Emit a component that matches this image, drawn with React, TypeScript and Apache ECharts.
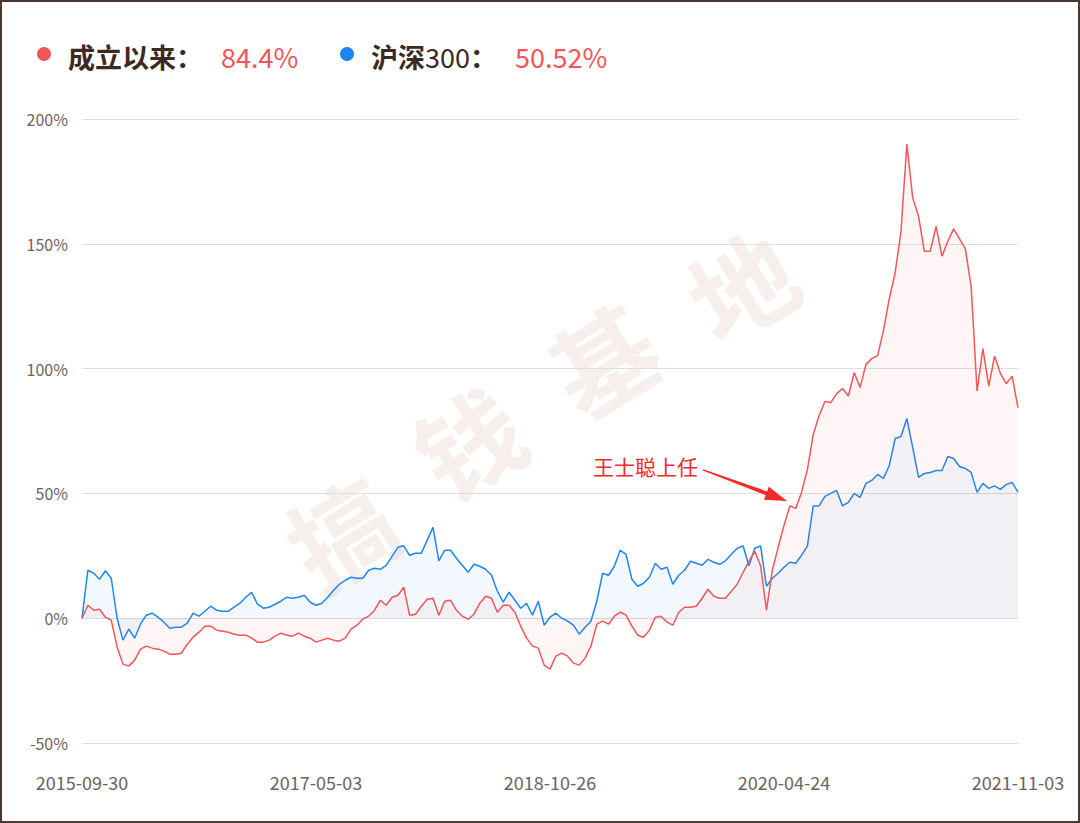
import React, { useEffect, useRef } from 'react';
import * as echarts from 'echarts';

const categories = [
  '2015-09-30','2015-10-16','2015-10-30','2015-11-13','2015-11-27','2015-12-11','2015-12-25','2016-01-08','2016-01-22','2016-02-05',
  '2016-02-26','2016-03-11','2016-03-25','2016-04-08','2016-04-22','2016-05-06','2016-05-20','2016-06-03','2016-06-17','2016-07-01',
  '2016-07-15','2016-07-29','2016-08-12','2016-08-26','2016-09-09','2016-09-23','2016-10-14','2016-10-28','2016-11-11','2016-11-25',
  '2016-12-09','2016-12-23','2017-01-06','2017-01-20','2017-02-10','2017-02-24','2017-03-10','2017-03-24','2017-04-07','2017-04-21',
  '2017-05-03','2017-05-16','2017-05-31','2017-06-13','2017-06-27','2017-07-10','2017-07-24','2017-08-07','2017-08-21','2017-09-01',
  '2017-09-15','2017-09-28','2017-10-19','2017-11-01','2017-11-15','2017-11-28','2017-12-12','2017-12-25','2018-01-09','2018-01-22',
  '2018-02-05','2018-02-26','2018-03-09','2018-03-22','2018-04-04','2018-04-19','2018-05-03','2018-05-16','2018-05-29','2018-06-11',
  '2018-06-25','2018-07-06','2018-07-19','2018-08-01','2018-08-14','2018-08-27','2018-09-07','2018-09-20','2018-10-10','2018-10-18',
  '2018-10-26','2018-11-08','2018-11-21','2018-12-04','2018-12-17','2018-12-28','2019-01-11','2019-01-24','2019-02-13','2019-02-26',
  '2019-03-11','2019-03-22','2019-04-04','2019-04-18','2019-05-06','2019-05-17','2019-05-30','2019-06-13','2019-06-26','2019-07-09',
  '2019-07-22','2019-08-02','2019-08-15','2019-08-28','2019-09-10','2019-09-24','2019-10-15','2019-10-28','2019-11-08','2019-11-21',
  '2019-12-04','2019-12-17','2019-12-30','2020-01-13','2020-02-05','2020-02-18','2020-03-02','2020-03-13','2020-03-26','2020-04-10',
  '2020-04-24','2020-05-11','2020-05-22','2020-06-04','2020-06-17','2020-07-02','2020-07-15','2020-07-28','2020-08-10','2020-08-21',
  '2020-09-03','2020-09-16','2020-09-29','2020-10-19','2020-10-30','2020-11-12','2020-11-25','2020-12-08','2020-12-21','2021-01-04',
  '2021-01-15','2021-02-10','2021-02-24','2021-03-09','2021-03-22','2021-04-02','2021-04-16','2021-04-29','2021-05-17','2021-05-28',
  '2021-06-10','2021-06-24','2021-07-07','2021-07-20','2021-08-02','2021-08-13','2021-08-26','2021-09-08','2021-09-22','2021-10-15',
  '2021-11-03'
];

// 成立以来 (fund cumulative return, %)
const fundValues = [
  0, 5.2, 3.2, 3.6, 0.4, -0.8, -11.6, -18.4, -19.2, -16.8,
  -12.4, -11.2, -12, -12.4, -13.2, -14.4, -14.4, -14, -10.4, -7.6,
  -5.6, -3.2, -3.2, -4.8, -5.2, -5.6, -6.4, -6.8, -6.8, -8,
  -9.6, -9.6, -8.8, -7.2, -6, -6.8, -7.2, -6, -7.2, -8,
  -9.6, -8.8, -8, -8.8, -9.2, -8, -4.4, -2.8, -0.4, 0.8,
  3.2, 7.2, 5.2, 8.4, 9.2, 12.4, 1.2, 1.6, 4.8, 7.6,
  8, 1.2, 6.8, 7.2, 3.2, 0.8, -0.4, 1.6, 6, 8.8,
  8, 2.4, 5.2, 5.2, 2.4, -3.2, -8, -11.2, -12, -18.8,
  -20.4, -15.2, -14, -15.2, -18, -18.8, -16, -11.2, -2.4, -1.2,
  -2.4, 0.8, 2.4, 1.2, -3.2, -6.8, -7.6, -4.8, 0.4, 0.8,
  -1.6, -2.8, 2.4, 4.4, 4.4, 4.8, 8, 11.6, 8.8, 8,
  8, 10.8, 13.6, 18.4, 22.8, 26.8, 21, 3.2, 19.2, 28.4,
  37.2, 45, 44, 50.4, 59.6, 73.6, 81.2, 86.8, 86.4, 90,
  92, 89, 98.4, 92.4, 101.6, 104, 105.2, 115.2, 128, 138.4,
  155, 190, 168.4, 161, 147, 147, 157, 145, 151, 156,
  152, 148, 132.8, 91, 108, 93, 105, 98, 94, 97,
  84.4
];

// 沪深300 (index cumulative return, %)
const hs300Values = [
  0, 19.2, 18, 15.6, 19, 16, 0, -8.8, -4.4, -8,
  -2.4, 1.2, 2, 0.4, -1.6, -4, -3.6, -3.6, -2, 2,
  0.8, 2.8, 4.8, 3.2, 2.8, 2.8, 4.4, 6, 8.4, 10.4,
  5.6, 4, 4.4, 5.6, 6.8, 8.4, 8, 8.4, 9.2, 6.4,
  5.2, 6, 8.4, 11.2, 13.6, 15.2, 16.4, 16, 16, 19.2,
  20, 19.6, 21.2, 24.8, 28.4, 29, 25.2, 26, 26, 31.2,
  36.4, 23, 27.2, 27.2, 24, 21.2, 18.4, 21.6, 20.8, 19.6,
  17.2, 10.8, 6.4, 10.4, 7.2, 4, 6, 1.2, 6.8, -2.8,
  0.4, 2, 0, -1.2, -2.8, -6.4, -3.6, -1.2, 6.8, 18,
  17.2, 20.8, 27.2, 25.6, 15.6, 12.8, 14, 16.4, 22, 19.6,
  20.4, 13.6, 17.2, 19.2, 22.8, 22, 21.2, 23.6, 22.4, 21.6,
  23, 25.6, 28, 29, 21, 28, 29, 12.8, 16, 18,
  20.4, 22.4, 22, 25.2, 29, 45, 45, 48.8, 50, 51.2,
  45, 46.4, 50, 48.4, 54, 55.2, 57.6, 56, 61.2, 72,
  72.8, 80, 68.4, 56.4, 58, 58.4, 59.2, 59.2, 64.8, 64,
  60.8, 60, 58.4, 50.4, 54, 52, 53, 51.6, 53.6, 54.4,
  50.52
];

const fundName = '成立以来：';
const hs300NameCn = '沪深';
const hs300NameNum = '300';
const annotationText = '王士聪上任';
const annotationDate = '2020-04-24';
const annotationValue = 47;
const watermarkChars = ['搞', '钱', '基', '地'];

const RED = '#f4555a';
const BLUE = '#1f87ef';
const FONT = '"Noto Sans CJK SC", "Noto Sans", sans-serif';

export default function App() {
  const ref = useRef<HTMLDivElement>(null);
  useEffect(() => {
    const chart = echarts.init(ref.current!, null, { renderer: 'svg' });
    chart.setOption({
      animation: false,
      backgroundColor: '#ffffff',
      textStyle: { fontFamily: FONT },
      grid: { left: 82, right: 62, top: 119, bottom: 80, containLabel: false },
      xAxis: {
        type: 'category',
        data: categories,
        boundaryGap: false,
        axisLine: { show: true, lineStyle: { color: '#dcdcdc' } },
        axisTick: { show: false },
        axisLabel: { interval: 39, color: '#6e625e', fontSize: 18, margin: 30, fontFamily: FONT },
        splitLine: { show: false },
      },
      yAxis: {
        type: 'value',
        min: -50,
        max: 200,
        interval: 50,
        axisLine: { show: false },
        axisTick: { show: false },
        axisLabel: { formatter: '{value}%', color: '#6e625e', fontSize: 16, margin: 14, fontFamily: FONT },
        splitLine: { lineStyle: { color: '#dedede', width: 1 } },
      },
      series: [
        {
          name: '沪深300',
          type: 'line',
          data: hs300Values,
          symbol: 'none',
          lineStyle: { color: BLUE, width: 1.5 },
          itemStyle: { color: BLUE },
          areaStyle: { color: 'rgba(31,135,239,0.08)' },
          z: 2,
        },
        {
          name: '成立以来',
          type: 'line',
          data: fundValues,
          symbol: 'none',
          lineStyle: { color: RED, width: 1.5 },
          itemStyle: { color: RED },
          areaStyle: { color: 'rgba(244,85,90,0.08)' },
          z: 3,
        },
      ],
    });

    const tip = chart.convertToPixel({ gridIndex: 0 }, [annotationDate, annotationValue]) as number[];
    const px = tip[0] + 3;
    const py = tip[1];
    const tx = px - 84;
    const ty = py - 31;
    const dx = px - tx;
    const dy = py - ty;
    const len = Math.sqrt(dx * dx + dy * dy);
    const ux = dx / len;
    const uy = dy / len;
    const nx = -uy;
    const ny = ux;
    const hl = 22;
    const hw = 7;
    const bx = px - ux * hl;
    const by = py - uy * hl;
    const arrowPts = [
      [tx + nx * 0.7, ty + ny * 0.7],
      [bx + nx * 2, by + ny * 2],
      [bx + nx * hw, by + ny * hw],
      [px, py],
      [bx - nx * hw, by - ny * hw],
      [bx - nx * 2, by - ny * 2],
      [tx - nx * 0.7, ty - ny * 0.7],
    ];

    const wmCenters = [[340, 530], [467, 440], [602, 357], [740, 283]];
    const watermark = watermarkChars.map((ch, i) => ({
      type: 'text',
      x: wmCenters[i][0],
      y: wmCenters[i][1],
      rotation: 0.55,
      z: -10,
      silent: true,
      style: {
        text: ch,
        align: 'center',
        verticalAlign: 'middle',
        font: `bold 104px ${FONT}`,
        fill: 'rgba(205,165,145,0.18)',
      },
    }));

    const fundLast = fundValues[fundValues.length - 1];
    const hsLast = hs300Values[hs300Values.length - 1];

    chart.setOption({
      graphic: [
        ...watermark,
        { type: 'circle', shape: { cx: 44, cy: 54, r: 7 }, style: { fill: RED } },
        { type: 'text', x: 68, y: 56, style: { text: fundName, font: `bold 27px ${FONT}`, fill: '#3c2a22', verticalAlign: 'middle' } },
        { type: 'text', x: 221, y: 56, style: { text: `${fundLast}%`, font: `27px ${FONT}`, fill: RED, verticalAlign: 'middle' } },
        { type: 'circle', shape: { cx: 347, cy: 54, r: 7 }, style: { fill: '#1a86f2' } },
        {
          type: 'text', x: 371, y: 56,
          style: {
            text: `{a|${hs300NameCn}}{b|${hs300NameNum}}{a|：}`,
            verticalAlign: 'middle',
            rich: {
              a: { font: `bold 27px ${FONT}`, fill: '#3c2a22', color: '#3c2a22' },
              b: { font: `27px ${FONT}`, fill: '#3c2a22', color: '#3c2a22' },
            },
          },
        },
        { type: 'text', x: 515, y: 56, style: { text: `${hsLast}%`, font: `27px ${FONT}`, fill: RED, verticalAlign: 'middle' } },
        { type: 'text', x: px - 89, y: py - 35, z: 10, style: { text: annotationText, font: `21px ${FONT}`, fill: '#f5282a', align: 'right', verticalAlign: 'middle' } },
        { type: 'polygon', z: 10, shape: { points: arrowPts }, style: { fill: '#f5282a' } },
      ],
    });

    return () => chart.dispose();
  }, []);

  return (
    <div style={{ position: 'fixed', left: 0, top: 0, width: 1080, height: 823, background: '#fff' }}>
      <div ref={ref} style={{ width: 1080, height: 823 }} />
      <div
        style={{
          position: 'absolute', left: 0, top: 0, width: 1080, height: 823,
          boxSizing: 'border-box', border: '2px solid #4a372d', pointerEvents: 'none',
        }}
      />
    </div>
  );
}
